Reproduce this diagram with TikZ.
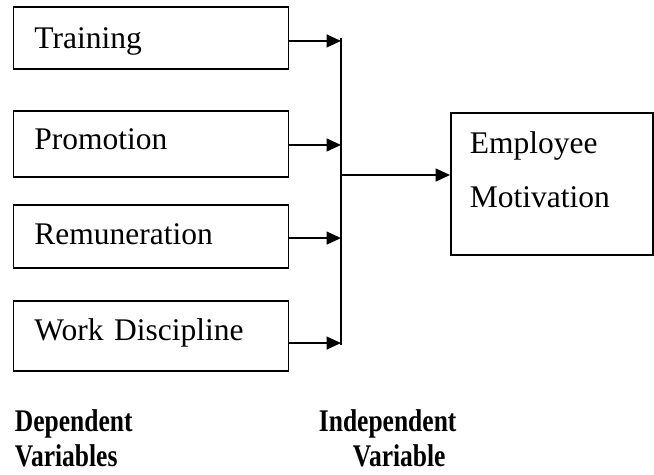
\documentclass[tikz,border=0pt]{standalone}
\usepackage{fontspec}
\setmainfont{Liberation Serif}
\usetikzlibrary{arrows.meta}
\newcommand{\squeeze}[1]{\scalebox{0.81}[1]{#1}}
\begin{document}
\begin{tikzpicture}[x=0.025cm, y=-0.025cm, line width=1.3pt,
    >={Triangle[length=0.36cm, width=0.32cm]},
    every node/.style={font=\fontsize{22.4pt}{38.4pt}\selectfont},
    varbox/.style={draw, rectangle, minimum width=6.875cm, text width=5.825cm,
        inner xsep=0.525cm, inner ysep=0pt, align=left, text height=0.525cm},
    varlabel/.style={anchor=north west, inner sep=0pt, align=left,
        font=\fontsize{22.4pt}{25pt}\selectfont\bfseries}]
    \useasboundingbox (0,0) rectangle (654,475);
    % the four boxes on the left
    \foreach \n/\t/\y/\h/\d in {train/Training/38/62/0, promo/Promotion/144/66/11,
        remun/Remuneration/236.5/63/6, work/Work Discipline/336/70/13} {
        \node[varbox, minimum height={\h*0.025cm}, text depth={\d*0.025cm}] (\n) at (151,\y) {\t};
    }
    \node[draw, rectangle, minimum width=5.05cm, minimum height=3.55cm,
        text width=4.1cm, inner xsep=0.475cm, inner ysep=0pt, align=left,
        text height=0.525cm, text depth=2.05cm] (emp) at (552,184) {Employee\\Motivation};
    % collecting line
    \coordinate (spine) at (341,38);
    \coordinate (spine end) at (341,345);
    \coordinate (hub) at (341,175);
    \draw (spine) -- (spine end);
    \foreach \n/\dy in {train/2.1, promo/0.7, remun/1.1, work/5.0} {
        \coordinate (\n out) at ([yshift=-\dy pt]\n.east);
        \draw[->] (\n out) -- (\n out -| spine);
    }
    \draw[->] (hub) -- (hub -| emp.west);
    % captions
    \node[varlabel] (dep) at (14,409) {\squeeze{Dependent}\\\squeeze{Variables}};
    \node[varlabel] (indep) at (318,409) {\squeeze{Independent}\\\hspace*{0.85cm}\squeeze{Variable}};
\end{tikzpicture}
\end{document}
